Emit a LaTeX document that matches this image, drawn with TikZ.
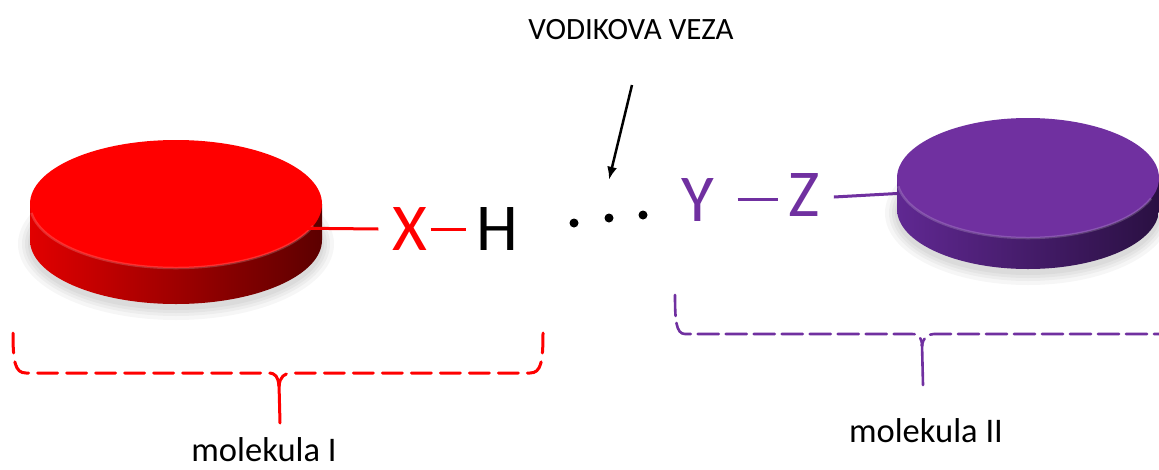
\documentclass[tikz,border=0pt]{standalone}
\usepackage{fontspec}
\setmainfont{Carlito}
\usetikzlibrary{arrows.meta}
\definecolor{molred}{RGB}{255,0,0}
\definecolor{molpurple}{RGB}{112,48,160}
\definecolor{redsideL}{RGB}{225,0,0}
\definecolor{redsideR}{RGB}{92,0,0}
\definecolor{purpsideL}{RGB}{96,40,146}
\definecolor{purpsideR}{RGB}{42,16,66}
\newcommand{\drawdisk}[9]{%
  \foreach \g in {12,8,5,2}{%
    \fill[black,opacity=0.035] (#1,#2+#5+4) ellipse[x radius=#3+\g, y radius=#4+\g];}
  \shade[left color=#7, right color=#8] (#1-#3,#2) -- (#1-#3,#2+#5)
    arc[start angle=180,end angle=0,x radius=#3,y radius=#4] -- (#1+#3,#2) -- cycle;
  \fill[#6] (#1,#2) ellipse[x radius=#3, y radius=#4];
  \draw[#9, line width=2.5pt, opacity=0.18] (#1,#2) ++(172:#3 and #4)
    arc[start angle=172,end angle=20,x radius=#3,y radius=#4];
}
\tikzset{
  atom/.style={inner sep=0pt, font=\fontsize{67}{67}\selectfont},
  label/.style={inner sep=0pt, anchor=base, font=\fontsize{34.5}{34.5}\selectfont},
  redbond/.style={draw=molred, line width=3pt},
  purplebond/.style={draw=molpurple, line width=3pt},
  hdot/.style={circle, fill=black, inner sep=0pt, minimum size=9pt},
  pointer/.style={draw=black, line width=2.5pt, -{Latex[length=13pt,width=10pt]}},
  redbrace/.style={draw=molred, line width=3pt, dash pattern=on 20pt off 9pt, line cap=round},
  purplebrace/.style={draw=molpurple, line width=2.6pt, dash pattern=on 21pt off 7pt, line cap=round},
}
\begin{document}
\begin{tikzpicture}[x=1pt,y=-1pt]
\clip (0,0) rectangle (1159,469);
\fill[white] (0,0) rectangle (1159,469);

% purple connector goes under the disk
\coordinate (diskII) at (906,193);
\node[atom, text=molpurple] (Y) at (698,200.5) {Y};
\node[atom, text=molpurple] (Z) at (804,195) {Z};
\draw[purplebond] ([xshift=14pt,yshift=-2pt]Z.east) -- (diskII);

% disks
\drawdisk{176}{204}{146}{64}{36}{molred}{redsideL}{redsideR}{white}
\drawdisk{1028}{178}{131}{60}{31}{molpurple}{purpsideL}{purpsideR}{white}

% molecule I
\coordinate (diskI) at (280,228);
\node[atom, text=molred] (X) at (410,229) {X};
\node[atom, text=black] (H) at (497.5,229) {H};
\draw[redbond] (diskI) -- ([xshift=-14pt]X.west);
\draw[redbond] ([xshift=3pt]X.east) -- ([xshift=-10pt]H.west);

% molecule II bond
\draw[purplebond] ([xshift=23pt,yshift=1.5pt]Y.east) -- +(40,0);

% hydrogen bond dots
\node[hdot] (d1) at (574,223) {};
\node[hdot] (d2) at (609,218) {};
\node[hdot] (d3) at (643,215) {};

% title and arrow
\node[label, font=\fontsize{31}{31}\selectfont] (title) at (631,39) {VODIKOVA VEZA};
\coordinate (arrowtail) at (632,85);
\draw[pointer] (arrowtail) -- ([yshift=33.5pt]d2.north);

% brace I
\draw[redbrace] (13,333) .. controls (13,362) and (15,373) .. (26,373) -- (268,373)
  .. controls (276,373) and (278,377) .. (279,386);
\draw[redbrace] (543,333) .. controls (543,362) and (541,373) .. (530,373) -- (292,373)
  .. controls (284,373) and (280,377) .. (279,386);
\coordinate (tipI) at (280,423);
\draw[molred, line width=3pt, line cap=round] (279,384) -- (tipI);
\node[label] (molI) at (264,461) {molekula I};

% brace II
\draw[purplebrace] (675,295) .. controls (675,320) and (676,334) .. (685,334) -- (912,334)
  .. controls (919,334) and (922,338) .. (922,346);
\draw[purplebrace] (1175,334) -- (934,334) .. controls (927,334) and (923,338) .. (922,346);
\coordinate (tipII) at (923,385);
\draw[molpurple, line width=2.6pt, line cap=round] (922,344) -- (tipII);
\node[label] (molII) at (926,442) {molekula II};
\end{tikzpicture}
\end{document}
